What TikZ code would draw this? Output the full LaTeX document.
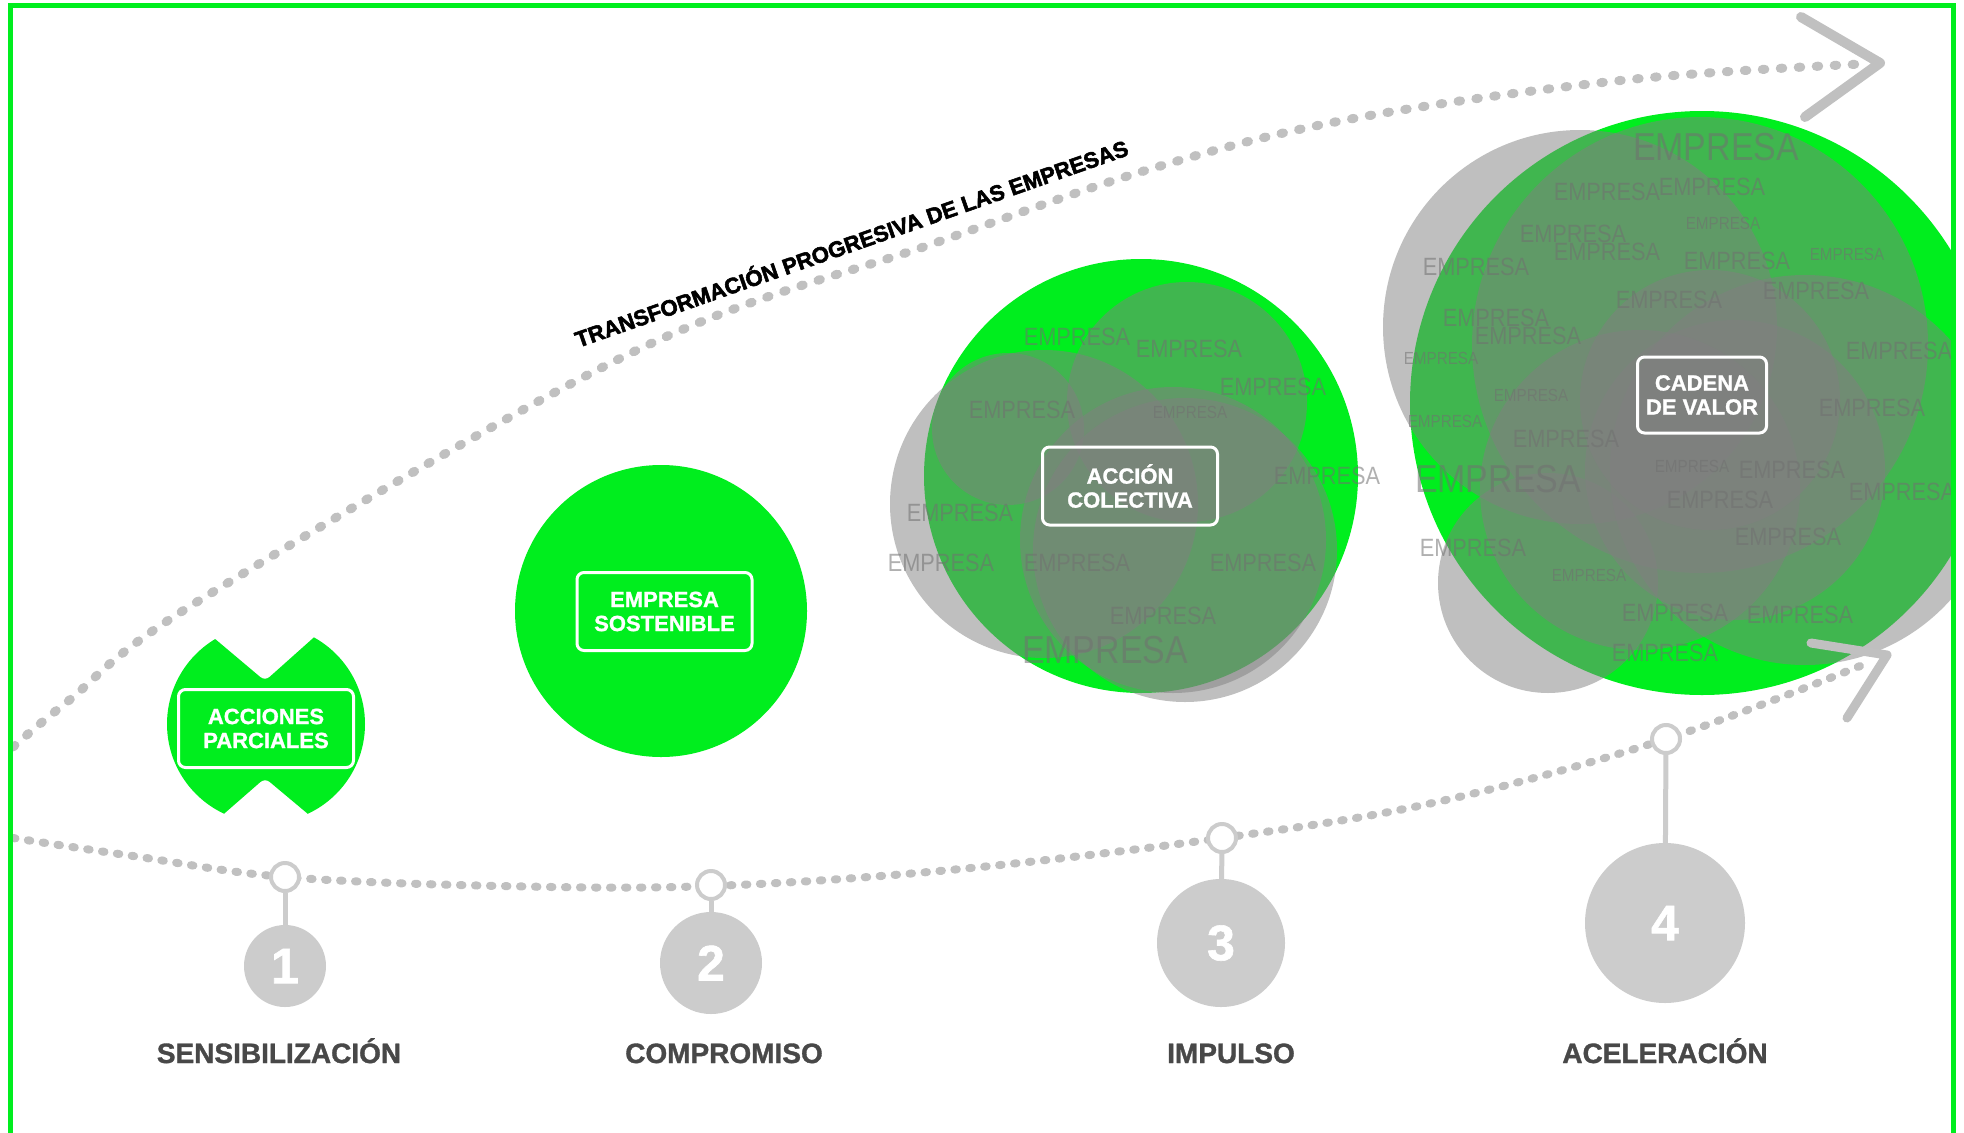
\documentclass[tikz,border=0pt]{standalone}
\usepackage{fontspec}
\usepackage{graphicx}
\setmainfont{Liberation Sans}
\newfontfamily\heavyfont{Liberation Sans Bold}[FakeBold=2.5]
\newfontfamily\semiheavyfont{Liberation Sans Bold}[FakeBold=1.2]
\definecolor{brightgreen}{RGB}{0,238,30}
\definecolor{dotgray}{RGB}{192,192,192}
\definecolor{numgray}{RGB}{204,204,204}
\definecolor{circgray}{RGB}{128,128,128}
\definecolor{empgray}{RGB}{112,112,112}
\definecolor{labelgray}{RGB}{72,72,72}
\newcommand{\emptxt}{\scalebox{0.87}[1]{EMPRESA}}
\begin{document}
\begin{tikzpicture}[x=1pt, y=-1pt,
  dotsTop/.style={draw=dotgray, line width=9pt, line cap=round, dash pattern=on 2.5pt off 15.5pt},
  dotsBot/.style={draw=dotgray, line width=8pt, line cap=round, dash pattern=on 2.5pt off 12.5pt},
  chev/.style={draw=dotgray, line cap=round, line join=round},
  greencirc/.style={circle, fill=brightgreen, inner sep=0pt, outer sep=0pt},
  empcirc/.style={circle, fill=circgray, fill opacity=0.5, inner sep=0pt, outer sep=0pt},
  emp/.style={text=empgray, text opacity=0.55, inner sep=0pt, font=\fontsize{25}{25}\selectfont},
  empS/.style={emp, font=\fontsize{17.5}{17.5}\selectfont},
  empL/.style={emp, font=\fontsize{39}{39}\selectfont},
  tagbox/.style={draw=white, line width=3pt, rounded corners=7pt, text=white, align=center,
    font=\semiheavyfont\fontsize{22}{24}\selectfont, minimum width=175pt, minimum height=78pt, inner sep=0pt},
  ringnode/.style={circle, draw=numgray, line width=4pt, fill=white, minimum size=28pt, inner sep=0pt},
  stemline/.style={draw=numgray, line width=5pt},
  numcirc/.style={circle, fill=numgray, text=white, inner sep=0pt, font=\semiheavyfont\fontsize{50}{50}\selectfont},
  stagelabel/.style={text=labelgray, font=\semiheavyfont\fontsize{28}{28}\selectfont, inner sep=0pt, anchor=base},
  titletext/.style={font=\heavyfont\fontsize{22.2}{22.2}\selectfont, text=black, inner sep=0pt}
]
\useasboundingbox (0,0) rectangle (1964,1132);
\fill[white] (0,0) rectangle (1964,1132);

% dotted curves
\coordinate (topstart) at (13,747);
\coordinate (topend) at (1862,64);
\draw[dotsTop] plot[smooth, tension=0.6] coordinates {(topstart) (67,702) (200,600) (631,353) (935,243) (1157,167) (1356,118) (1625,80) (topend)};
\coordinate (botstart) at (13,838);
\coordinate (botend) at (1870,662);
\draw[dotsBot] plot[smooth, tension=0.6] coordinates {(botstart) (133,856) (285,877) (500,886) (711,886) (950,870) (1222,838) (1437,802) (1666,739) (botend)};

% title
\node[titletext, rotate=19.3] (title) at (851,242) {TRANSFORMACIÓN PROGRESIVA DE LAS EMPRESAS};

% stage 1: acciones parciales
\begin{scope}
\clip[rounded corners=6pt] (140,590) -- (157,590) -- (265,681) -- (367,590) -- (390,590) -- (390,860) -- (363,860) -- (265,778) -- (171,860) -- (140,860) -- cycle;
\node[greencirc, minimum size=198pt] (g1) at (266,724) {};
\end{scope}
\node[tagbox] (b1) at (266,728.5) {ACCIONES\\PARCIALES};

% stage 2: empresa sostenible
\node[greencirc, minimum size=292pt] (g2) at (661,611) {};
\node[tagbox] (b2) at (664.5,611.5) {EMPRESA\\SOSTENIBLE};

% stage 3: accion colectiva
\node[greencirc, minimum size=434pt] (g3) at (1141,476) {};
\node[empcirc, minimum size=308pt] (a1) at (1044,504) {};
\node[empcirc, minimum size=152pt] (a2) at (1008,429) {};
\node[empcirc, minimum size=240pt] (a3) at (1187,402) {};
\node[empcirc, minimum size=306pt] (a4) at (1173,540) {};
\node[empcirc, minimum size=304pt] (a5) at (1185,550) {};
\node[emp] (ae1) at (1077,337) {\emptxt};
\node[emp] (ae2) at (1189,349) {\emptxt};
\node[emp] (ae3) at (1273,387) {\emptxt};
\node[empS] (ae4) at (1190,412) {\emptxt};
\node[emp] (ae5) at (1022,410) {\emptxt};
\node[emp] (ae6) at (1327,476) {\emptxt};
\node[emp] (ae7) at (960,513) {\emptxt};
\node[emp] (ae8) at (941,563) {\emptxt};
\node[emp] (ae9) at (1077,563) {\emptxt};
\node[emp] (ae10) at (1263,563) {\emptxt};
\node[emp] (ae11) at (1163,616) {\emptxt};
\node[empL] (ae12) at (1105,650) {\emptxt};
\node[tagbox] (b3) at (1130,486) {ACCIÓN\\COLECTIVA};

% stage 4: cadena de valor
\begin{scope}
\clip (0,0) rectangle (1951,1132);
\node[greencirc, minimum size=584pt] (g4) at (1702,403) {};
\node[empcirc, minimum size=394pt] (c1) at (1580,327) {};
\node[empcirc, minimum size=456pt] (c2) at (1700,345) {};
\node[empcirc, minimum size=220pt] (c3) at (1548,583) {};
\node[empcirc, minimum size=300pt] (c4) at (1735,470) {};
\node[empcirc, minimum size=390pt] (c5) at (1805,470) {};
\node[empcirc, minimum size=320pt] (c6) at (1640,490) {};
\node[empcirc, minimum size=260pt] (c7) at (1710,400) {};
\node[empL] (ce1) at (1716,147) {\emptxt};
\node[emp] (ce2) at (1607,192) {\emptxt};
\node[emp] (ce3) at (1712,187) {\emptxt};
\node[empS] (ce4) at (1723,223) {\emptxt};
\node[emp] (ce5) at (1573,234) {\emptxt};
\node[emp] (ce6) at (1607,252) {\emptxt};
\node[emp] (ce7) at (1737,261) {\emptxt};
\node[empS] (ce8) at (1847,254) {\emptxt};
\node[emp] (ce9) at (1476,267) {\emptxt};
\node[emp] (ce10) at (1816,291) {\emptxt};
\node[emp] (ce11) at (1669,300) {\emptxt};
\node[emp] (ce12) at (1496,318) {\emptxt};
\node[emp] (ce13) at (1528,336) {\emptxt};
\node[emp] (ce14) at (1899,351) {\emptxt};
\node[empS] (ce15) at (1441,358) {\emptxt};
\node[empS] (ce16) at (1531,395) {\emptxt};
\node[empS] (ce17) at (1445,421) {\emptxt};
\node[emp] (ce18) at (1566,439) {\emptxt};
\node[emp] (ce19) at (1872,408) {\emptxt};
\node[empS] (ce20) at (1692,466) {\emptxt};
\node[emp] (ce21) at (1792,470) {\emptxt};
\node[empL] (ce22) at (1498,479) {\emptxt};
\node[emp] (ce23) at (1902,492) {\emptxt};
\node[emp] (ce24) at (1720,500) {\emptxt};
\node[emp] (ce25) at (1788,537) {\emptxt};
\node[emp] (ce26) at (1473,548) {\emptxt};
\node[empS] (ce27) at (1589,575) {\emptxt};
\node[emp] (ce28) at (1675,613) {\emptxt};
\node[emp] (ce29) at (1800,615) {\emptxt};
\node[emp] (ce30) at (1665,653) {\emptxt};
\end{scope}
\node[tagbox, minimum width=129pt, minimum height=76pt] (b4) at (1702,395) {CADENA\\DE VALOR};

% rings, stems, numbers
\node[ringnode] (r1) at (285,877) {};
\node[ringnode] (r2) at (711,885) {};
\node[ringnode] (r3) at (1222,838) {};
\node[ringnode] (r4) at (1666,739) {};
\node[numcirc, minimum size=82pt] (n1) at (285,966) {1};
\node[numcirc, minimum size=102pt] (n2) at (711,963) {2};
\node[numcirc, minimum size=128pt] (n3) at (1221,943) {3};
\node[numcirc, minimum size=160pt] (n4) at (1665,923) {4};
\draw[stemline] (r1) -- (n1);
\draw[stemline] (r2) -- (n2);
\draw[stemline] (r3) -- (n3);
\draw[stemline] (r4) -- (n4);

% stage labels
\node[stagelabel] (s1) at (279,1063) {SENSIBILIZACIÓN};
\node[stagelabel] (s2) at (724,1063) {COMPROMISO};
\node[stagelabel] (s3) at (1231,1063) {IMPULSO};
\node[stagelabel] (s4) at (1665,1063) {ACELERACIÓN};

% arrow chevrons
\coordinate (ta1) at (1801,17);
\coordinate (ttip) at (1880,63);
\coordinate (ta2) at (1805,117);
\draw[chev, line width=10pt] (ta1) -- (ttip) -- (ta2);
\coordinate (ba1) at (1811,643);
\coordinate (btip) at (1887,655);
\coordinate (ba2) at (1847,718);
\draw[chev, line width=9pt] (ba1) -- (btip) -- (ba2);

% frame
\draw[brightgreen, line width=5pt] (10.5,6) rectangle (1953.5,1170);
\end{tikzpicture}
\end{document}
